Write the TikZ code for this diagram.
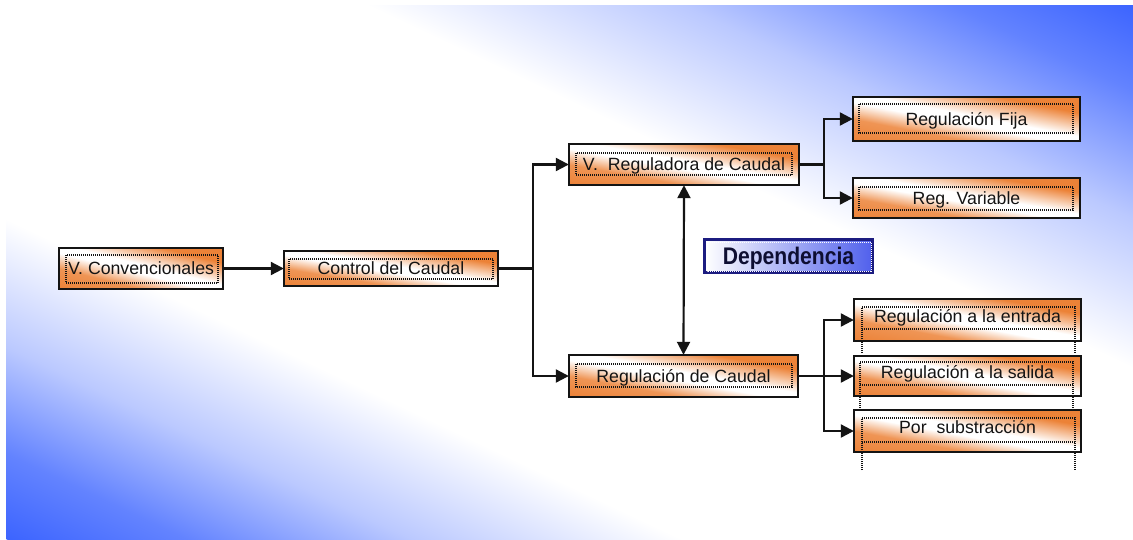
\documentclass[tikz,border=0pt]{standalone}
\usepackage{fontspec}
\setmainfont{Liberation Sans}
\newfontfamily\narrowbold[FakeStretch=0.88]{Liberation Sans}
\usetikzlibrary{arrows.meta}

\definecolor{bgblue}{RGB}{60,100,255}
\colorlet{bgsoft}{bgblue!80!white}
\colorlet{bgpale}{bgblue!35!white}
\definecolor{boxorange}{RGB}{236,130,55}
\colorlet{boxmid}{boxorange!85!white}
\definecolor{depblue}{RGB}{80,96,236}
\definecolor{depedge}{RGB}{28,28,128}
\definecolor{ink}{RGB}{20,20,20}

% fades across the rising diagonal: 0bp = lower left corner, 100bp = upper right corner
\pgfdeclareverticalshading{bgfade}{100bp}{color(0bp)=(bgblue); color(8bp)=(bgsoft); color(18bp)=(bgpale); color(30bp)=(white); color(66bp)=(white); color(80bp)=(bgpale); color(92bp)=(bgsoft); color(100bp)=(bgblue)}
\pgfdeclareverticalshading{boxfade}{100bp}{color(0bp)=(boxorange); color(25bp)=(boxmid); color(44bp)=(white); color(55bp)=(white); color(82bp)=(boxorange); color(100bp)=(boxorange)}

% fill a path with a shading whose bands run parallel to the falling diagonal
\makeatletter
\tikzset{
  diagfill/.style={path picture={%
    \pgfpointdiff{\pgfpointanchor{path picture bounding box}{south west}}%
                 {\pgfpointanchor{path picture bounding box}{north east}}%
    \edef\fillw{\pgf@sys@tonumber{\pgf@x}}\edef\fillh{\pgf@sys@tonumber{\pgf@y}}%
    \pgfmathsetmacro\fillang{atan2(\fillw,\fillh)-90}%
    \pgfmathsetmacro\fillden{veclen(\fillw,\fillh)}%
    \pgfmathsetmacro\fillH{2*\fillw*(\fillh/\fillden)}%
    \pgfmathsetmacro\fillL{\fillden+8}%
    \pgftext[at={\pgfpointanchor{path picture bounding box}{center}}, rotate=\fillang]%
      {\resizebox{\fillL pt}{\fillH pt}{\pgfuseshading{#1}}}%
  }},
}
\makeatother

\tikzset{
  box/.style={diagfill=boxfade, postaction={draw=ink, line width=1.9pt},
    inner sep=0pt, text height=12.7pt, text depth=0pt, text=ink},
  dots/.style={draw=ink, line width=1.1pt, dash pattern=on 1pt off 1pt},
  link/.style={draw=ink, line width=2.2pt},
  arr/.style={link, -{Triangle[length=13pt,width=13pt]}},
  twoarr/.style={link, {Triangle[length=13pt,width=13pt]}-{Triangle[length=13pt,width=13pt]}},
}

\begin{document}
\begin{tikzpicture}[x=1pt, y=-1pt, font=\fontsize{17.7}{20}\selectfont]
\useasboundingbox (0,0) rectangle (1133,539);
\path[diagfill=bgfade] (6,5) rectangle (1133,539);

% boxes
\node[box, minimum width=164pt, minimum height=41pt] (conv) at (141,268.5) {V. Convencionales};
\node[box, minimum width=214pt, minimum height=35pt] (ctrl) at (391,268.5) {Control del Caudal};
\node[box, minimum width=230pt, minimum height=41pt] (vreg) at (684,164.5) {V.\ \ Reguladora de Caudal};
\node[box, minimum width=229pt, minimum height=42pt] (rdc) at (683.5,376) {Regulación de Caudal};
\node[box, minimum width=227pt, minimum height=44pt] (fija) at (966.5,119) {Regulación Fija};
\node[box, minimum width=227pt, minimum height=40pt] (var) at (966.5,198) {Reg. Variable};
\node[box, minimum width=227pt, minimum height=42pt] (ent) at (967.5,320) {\raisebox{4pt}{Regulación a la entrada}};
\node[box, minimum width=227pt, minimum height=40pt] (sal) at (967.5,376) {\raisebox{4pt}{Regulación a la salida}};
\node[box, minimum width=227pt, minimum height=42pt] (por) at (967.5,431) {\raisebox{4pt}{Por\ \ substracción}};

\node[draw=depedge, line width=2.6pt, left color=white, right color=depblue,
  minimum width=168pt, minimum height=33pt, inner sep=0pt,
  text height=17pt, text depth=0pt, text={rgb,255:red,14;green,14;blue,50},
  font=\narrowbold\bfseries\fontsize{24}{26}\selectfont] (dep) at (788.5,256) {Dependencia};

% dotted text frames
\draw[dots] (66,255) rectangle (218,283);
\draw[dots] (289,259) rectangle (493,279);
\draw[dots] (576,153) rectangle (792,175);
\draw[dots] (576,364) rectangle (792,387);
\draw[dots] (859,104) rectangle (1073,133);
\draw[dots] (859,187) rectangle (1073,210);
\draw[dots] (862,353) -- (862,307) -- (1075,307) -- (1075,353);
\draw[dots] (862,329) -- (1075,329);
\draw[dots] (860,408) -- (860,362) -- (1073,362) -- (1073,408);
\draw[dots] (860,385) -- (1073,385);
\draw[dots] (862,470) -- (862,418) -- (1075,418) -- (1075,470);
\draw[dots] (862,442) -- (1075,442);
\draw[draw=white, line width=1pt, dash pattern=on 1pt off 1pt] (707,242) rectangle (871,271);

% connectors
\coordinate (j1) at (533,268.5);
\coordinate (j2) at (824,164.5);
\coordinate (j3) at (824,376);

\draw[arr] (conv) -- (ctrl);
\draw[link] (ctrl.east) -- (j1);
\draw[arr] (j1) |- (vreg.west);
\draw[arr] (j1) |- (rdc.west);
\draw[link] (vreg.east) -- (j2);
\draw[arr] (j2) |- (fija.west);
\draw[arr] (j2) |- (var.west);
\draw[link] (rdc.east) -- (j3);
\draw[arr] (j3) |- (ent.west);
\draw[arr] (j3) |- (sal.west);
\draw[arr] (j3) |- (por.west);
\draw[twoarr] (vreg.south) -- (rdc.north);
\end{tikzpicture}
\end{document}
